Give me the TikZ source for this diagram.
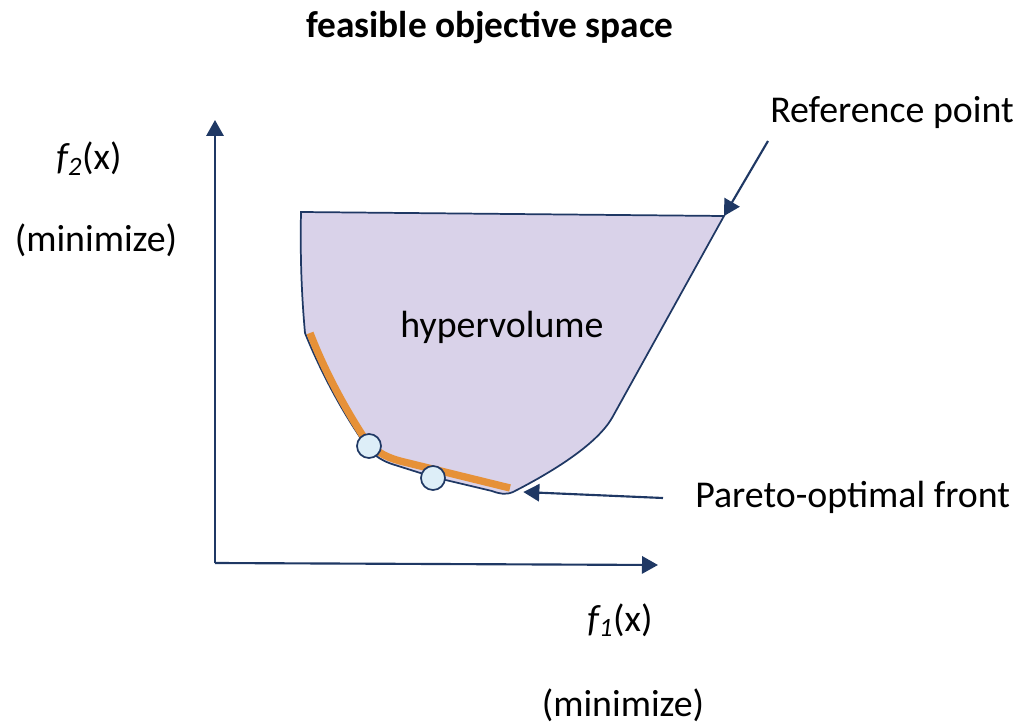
\documentclass[tikz,border=0pt]{standalone}
\usepackage{fontspec}
\setmainfont{Carlito}
\usetikzlibrary{arrows.meta}
\definecolor{navy}{RGB}{31,56,100}
\definecolor{lav}{RGB}{217,210,233}
\definecolor{orng}{RGB}{230,145,56}
\definecolor{ptfill}{RGB}{221,238,248}
\tikzset{
  lbl/.style={font=\fontsize{28.4}{33}\selectfont, inner sep=0pt},
  axisarrow/.style={navy, line width=1.6pt, -{Triangle[length=12pt,width=13pt]}},
  callout/.style={navy, line width=1.6pt, -{Triangle[length=12pt,width=13pt]}},
  pt/.style={circle, draw=navy, line width=1.3pt, fill=ptfill, minimum size=18pt, inner sep=0pt},
}
\begin{document}
\begin{tikzpicture}[x=0.75pt,y=-0.75pt]
\useasboundingbox (0,0) rectangle (1015,724);
% axes
\coordinate (O) at (215,563);
\coordinate (ytop) at (215,120);
\coordinate (xend) at (658,565);
\draw[axisarrow] (O) -- (ytop);
\draw[axisarrow] (O) -- (xend);
% hypervolume region
\coordinate (TL) at (301,212);
\coordinate (RP) at (724,216);
\coordinate (PE) at (510,492);
\draw[navy, line width=1.3pt, fill=lav]
  (TL) -- (RP) -- (612,418) .. controls (598,442) and (560,468) .. (513,492)
  .. controls (506,495) and (500,494) .. (492,491)
  -- (433,477) -- (395,465)
  .. controls (378,460) and (370,452) .. (362,440)
  .. controls (340,408) and (320,370) .. (305,333)
  .. controls (302,300) and (300,260) .. (TL) -- cycle;
% Pareto front
\draw[orng, line width=5.5pt]
  (310,333) .. controls (325,372) and (345,408) .. (363,436)
  .. controls (372,450) and (385,457) .. (400,461) -- (510,488);
\node[pt] (p1) at (369,446) {};
\node[pt] (p2) at (433,478) {};
% texts
\node[font=\bfseries\fontsize{28}{33}\selectfont, inner sep=0pt] (title) at (490,28) {feasible objective space};
\node[lbl] (hv) at (502,327) {hypervolume};
\node[lbl, anchor=west] (ref) at (770,113) {Reference point};
\node[lbl, anchor=west] (pof) at (695,497) {Pareto-optimal front};
\node[lbl] (f2) at (89,159) {\textit{f\textsubscript{2}}(x)};
\node[lbl] (min2) at (96,240) {(minimize)};
\node[lbl] (f1) at (620,620) {\textit{f\textsubscript{1}}(x)};
\node[lbl] (min1) at (623,705) {(minimize)};
% callouts
\coordinate (refstart) at (768,141);
\coordinate (pofstart) at (663,498);
\draw[callout] (refstart) -- (RP);
\draw[callout] (pofstart) -- ([xshift=10pt]PE);
\end{tikzpicture}
\end{document}
